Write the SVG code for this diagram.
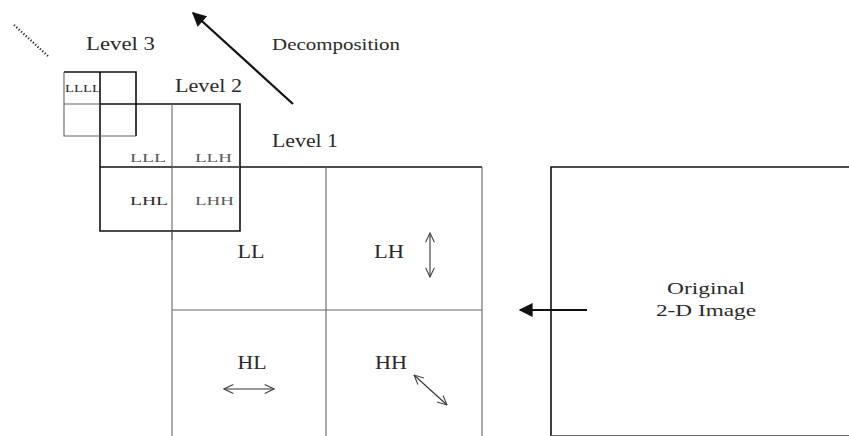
<svg xmlns="http://www.w3.org/2000/svg" width="849" height="436" viewBox="0 0 849 436">
<style>
.t{font-family:"Liberation Serif","Times New Roman",serif;fill:#2a2a2a}
.lv{font-size:18px}
.sb{font-size:17px}
.sm{font-size:13px}
.k{stroke:#111;stroke-width:1.6;fill:none}
.g{stroke:#666;stroke-width:1.1;fill:none}
.dbl{stroke:#333;stroke-width:1.1;fill:none}
</style>
<defs>
<marker id="ah2" viewBox="0 0 10 10" refX="9" refY="5" markerWidth="18" markerHeight="14" orient="auto" markerUnits="userSpaceOnUse">
<path d="M0,0 L10,5 L0,10 z" fill="#111"/>
</marker>
<marker id="va" viewBox="0 0 10 10" refX="9.5" refY="5" markerWidth="11" markerHeight="11" orient="auto-start-reverse" markerUnits="userSpaceOnUse">
<path d="M1,1 L9.5,5 L1,9" fill="none" stroke="#444" stroke-width="1"/>
</marker>
</defs>
<rect width="849" height="436" fill="#fff"/>

<g id="original">
<path class="k" d="M551,436 V167 H849"/>
<path class="g" d="M551,435.5 H849"/>
<text class="t sb" x="706" y="294" text-anchor="middle" textLength="78" lengthAdjust="spacingAndGlyphs">Original</text>
<text class="t sb" x="706" y="316" text-anchor="middle" textLength="100" lengthAdjust="spacingAndGlyphs">2-D Image</text>
</g>

<g id="level1">
<path class="k" d="M172,167 H482"/>
<path class="g" d="M172,167 V436 M482,167 V436 M326,167 V436 M172,310 H482"/>
<text class="t lv" x="272" y="147" textLength="66" lengthAdjust="spacingAndGlyphs">Level 1</text>
<text class="t lv" x="251" y="258" text-anchor="middle" textLength="27" lengthAdjust="spacingAndGlyphs">LL</text>
<text class="t lv" x="389" y="258" text-anchor="middle" textLength="30" lengthAdjust="spacingAndGlyphs">LH</text>
<text class="t lv" x="252" y="369" text-anchor="middle" textLength="29" lengthAdjust="spacingAndGlyphs">HL</text>
<text class="t lv" x="391" y="369" text-anchor="middle" textLength="32" lengthAdjust="spacingAndGlyphs">HH</text>
<path class="dbl" d="M430,233 V277" marker-start="url(#va)" marker-end="url(#va)"/>
<path class="dbl" d="M224,389 H274" marker-start="url(#va)" marker-end="url(#va)"/>
<path class="dbl" d="M414,375 L447,405" marker-start="url(#va)" marker-end="url(#va)"/>
</g>

<g id="level2">
<path class="k" d="M100,104 H240 V231 H100 Z M100,167 H172"/>
<path class="g" d="M172,104 V167 M172,167 H240 M172,231 V240"/>
<text class="t lv" x="175" y="92" textLength="67" lengthAdjust="spacingAndGlyphs">Level 2</text>
<text class="t sm" x="130" y="162" textLength="36" lengthAdjust="spacingAndGlyphs" fill-opacity="0.8">LLL</text>
<text class="t sm" x="195" y="162" textLength="37" lengthAdjust="spacingAndGlyphs" fill-opacity="0.8">LLH</text>
<text class="t sm" x="130" y="205" textLength="38" lengthAdjust="spacingAndGlyphs">LHL</text>
<text class="t sm" x="195" y="205" textLength="39" lengthAdjust="spacingAndGlyphs" fill-opacity="0.8">LHH</text>
</g>

<g id="level3">
<path class="k" d="M64,72 H136 V136 M100,72 V104"/>
<path class="g" d="M64,72 V136 H136 M64,104 H100"/>
<text class="t lv" x="86" y="50" textLength="69" lengthAdjust="spacingAndGlyphs">Level 3</text>
<text class="t" x="65" y="92" font-size="11" textLength="36" lengthAdjust="spacingAndGlyphs">LLLL</text>
</g>

<g id="connectors">
<path d="M293,104 L193,13" stroke="#111" stroke-width="2.2" fill="none" marker-end="url(#ah2)"/>
<path d="M14,25 L49,57" stroke="#222" stroke-width="2.2" stroke-dasharray="1.2 2" fill="none"/>
<path d="M587,310 L520,310" stroke="#111" stroke-width="2.2" fill="none" marker-end="url(#ah2)"/>
</g>

<text class="t sb" x="272" y="50" textLength="128" lengthAdjust="spacingAndGlyphs">Decomposition</text>
</svg>
